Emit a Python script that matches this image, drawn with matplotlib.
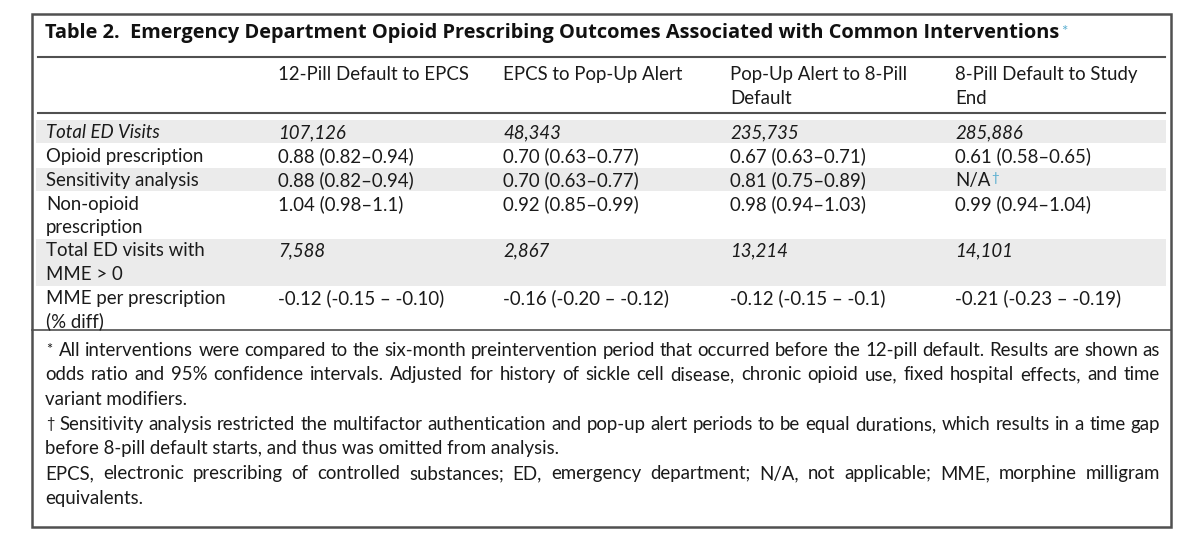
import matplotlib
matplotlib.use("Agg")
import matplotlib.pyplot as plt
from matplotlib.patches import Rectangle

# table content
title = "Table 2.  Emergency Department Opioid Prescribing Outcomes Associated with Common Interventions"
col_headers = [
    ["12-Pill Default to EPCS"],
    ["EPCS to Pop-Up Alert"],
    ["Pop-Up Alert to 8-Pill", "Default"],
    ["8-Pill Default to Study", "End"],
]
row_labels = [
    ["Total ED Visits"],
    ["Opioid prescription"],
    ["Sensitivity analysis"],
    ["Non-opioid", "prescription"],
    ["Total ED visits with", "MME > 0"],
    ["MME per prescription", "(% diff)"],
]
row_italic = [True, False, False, False, False, False]
row_shaded = [True, False, True, False, True, False]
values_12pill = ["107,126", "0.88 (0.82–0.94)", "0.88 (0.82–0.94)", "1.04 (0.98–1.1)", "7,588", "-0.12 (-0.15 – -0.10)"]
values_epcs = ["48,343", "0.70 (0.63–0.77)", "0.70 (0.63–0.77)", "0.92 (0.85–0.99)", "2,867", "-0.16 (-0.20 – -0.12)"]
values_popup = ["235,735", "0.67 (0.63–0.71)", "0.81 (0.75–0.89)", "0.98 (0.94–1.03)", "13,214", "-0.12 (-0.15 – -0.1)"]
values_8pill = ["285,886", "0.61 (0.58–0.65)", "N/A", "0.99 (0.94–1.04)", "14,101", "-0.21 (-0.23 – -0.19)"]
italic_values_rows = [0, 4]

# footnote lines: (text, justified)
footnotes = [
    ("*  All interventions were compared to the six-month preintervention period that occurred before the 12-pill default. Results are shown as", True),
    ("odds ratio and 95% confidence intervals. Adjusted for history of sickle cell disease, chronic opioid use, fixed hospital effects, and time", True),
    ("variant modifiers.", False),
    ("†  Sensitivity analysis restricted the multifactor authentication and pop-up alert periods to be equal durations, which results in a time gap", True),
    ("before 8-pill default starts, and thus was omitted from analysis.", False),
    ("EPCS, electronic prescribing of controlled substances; ED, emergency department; N/A, not applicable; MME, morphine milligram", True),
    ("equivalents.", False),
]

FONT = "Lato"
FS = 13.4
TXT = "#1a1a1a"
BLUE = "#5aaed0"
SHADE = "#ebebeb"
LINE = "#505050"

fig = plt.figure(figsize=(12, 5.6), dpi=100)
ax = fig.add_axes([0, 0, 1, 1])
ax.set_xlim(0, 1200)
ax.set_ylim(560, 0)
ax.axis("off")
fig.canvas.draw()
renderer = fig.canvas.get_renderer()

box_l, box_r, box_t, box_b = 32, 1171, 14, 527
x_label = 46
col_x = [278, 503, 730, 955]
row_y = [132, 156, 180, 204, 251, 298]
line_h = 23.5
band_x0, band_x1 = 36, 1166

# shaded bands
for i, shaded in enumerate(row_shaded):
    if shaded:
        n = len(row_labels[i])
        top = row_y[i] - 12
        ax.add_patch(Rectangle((band_x0, top), band_x1 - band_x0, 23 + (n - 1) * line_h,
                               facecolor=SHADE, edgecolor="none", zorder=0))

# frame and rules
ax.add_patch(Rectangle((box_l, box_t), box_r - box_l, box_b - box_t, facecolor="none",
                       edgecolor=LINE, lw=1.8, zorder=3))
for y in [57, 113]:
    ax.plot([38, 1165], [y, y], color=LINE, lw=1.5, zorder=3)
ax.plot([box_l, box_r], [330, 330], color=LINE, lw=1.2, zorder=3)


def put(x, y, s, style="normal", weight="normal", size=FS, color=TXT, family=FONT):
    # y is the visual middle of a text line; draw on the baseline below it
    return ax.text(x, round(y + 5.5), s, fontsize=size, family=family, style=style,
                   weight=weight, color=color, ha="left", va="baseline")


def width(t):
    return t.get_window_extent(renderer).width


def justify(text, x0, x1, y):
    words = text.split(" ")
    objs = [put(x0, y, w) for w in words]
    widths = [width(o) for o in objs]
    gap = (x1 - x0 - sum(widths)) / (len(words) - 1)
    x = x0
    for o, w in zip(objs, widths):
        o.set_x(x)
        x += w + gap


# title in a wider bold face, sized to span the same width as the original
tt = put(45, 33, title, weight="bold", size=14, color="#111111", family="Open Sans")
tt.set_fontsize(14 * (1066 - 45) / width(tt))
put(tt.get_window_extent(renderer).x1 + 2, 30, "*", size=11, color=BLUE)

# column headers
for cx, lines in zip(col_x, col_headers):
    for k, s in enumerate(lines):
        put(cx, 75 + k * line_h, s)

# body rows
columns = [values_12pill, values_epcs, values_popup, values_8pill]
for i, lines in enumerate(row_labels):
    st = "italic" if row_italic[i] else "normal"
    for k, s in enumerate(lines):
        put(x_label, row_y[i] + k * line_h, s, style=st)
    for cx, vals in zip(col_x, columns):
        vst = "italic" if i in italic_values_rows else "normal"
        tv = put(cx, row_y[i], vals[i], style=vst)
        if vals[i] == "N/A":
            put(tv.get_window_extent(renderer).x1 + 1, row_y[i] - 4, "†", size=9.5, color=BLUE)

# footnotes, some justified
fn_x0, fn_x1 = 45, 1160
fn_y0, fn_dy = 350, 24.7
for j, (s, just) in enumerate(footnotes):
    y = fn_y0 + j * fn_dy
    if s[0] in "*†":
        put(46, y - 2, s[0], size=10.5)
        rest = s[1:].strip()
        start = 59
    else:
        rest = s
        start = fn_x0
    if just:
        justify(rest, start, fn_x1, y)
    else:
        put(start, y, rest)

fig.savefig("out.png", dpi=100, facecolor="white")
